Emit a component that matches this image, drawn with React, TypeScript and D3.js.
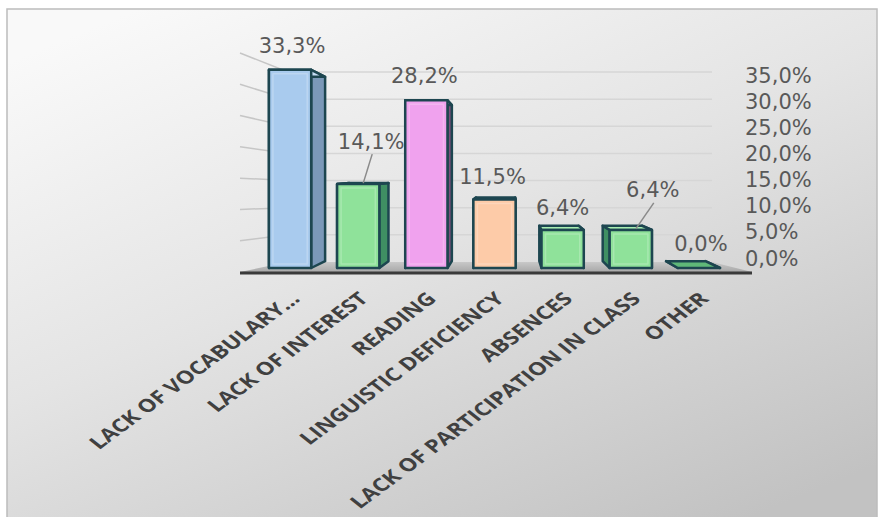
import React from 'react';
import * as d3 from 'd3';

// ---- data ----
const categories = [
  'LACK OF VOCABULARY...',
  'LACK OF INTEREST',
  'READING',
  'LINGUISTIC DEFICIENCY',
  'ABSENCES',
  'LACK OF PARTICIPATION IN CLASS',
  'OTHER',
];
const values = [33.3, 14.1, 28.2, 11.5, 6.4, 6.4, 0.0];
const tickValues = [0, 5, 10, 15, 20, 25, 30, 35];

// ---- styling ----
const frontColors = ['#a9cbee', '#8fe29a', '#f0a2ee', '#fdcba8', '#8fe29a', '#8fe29a', '#8fe29a'];
const sideColors = ['#7b98b8', '#3f8f63', '#7a4f7a', '#a88a72', '#3f8f63', '#3f8f63', '#3f8f63'];
const topColors = ['#c6ddf4', '#a9eeb2', '#f6c0f3', '#fde0cb', '#a9eeb2', '#a9eeb2', '#5fb878'];
// label offsets relative to (bar centre, bar top): [dx, dy, leader]
const labelOffsets: [number, number, boolean][] = [
  [2, -24, false],
  [13, -43, true],
  [-2, -25, false],
  [-2, -23, false],
  [0, -22, false],
  [22, -40, true],
  [2, -25, false],
];

const W = 878;
const H = 517;
const fmt = (v: number) => v.toFixed(1).replace('.', ',') + '%';

export default function App() {
  const x = d3
    .scaleBand<string>()
    .domain(categories)
    .range([256, 733])
    .paddingInner(0.38)
    .paddingOuter(0.19);
  const bw = x.bandwidth();
  const yFront = d3.scaleLinear().domain([0, 35]).range([268, 59.75]);
  const yWall = d3.scaleLinear().domain([0, 35]).range([262, 72]);
  const yWallFront = d3.scaleLinear().domain([0, 35]).range([272, 53]);
  const yAxis = d3.scaleLinear().domain([0, 35]).range([258, 75]);

  const V = [510, 170];
  const T = 0.07;
  const back = (px: number, py: number): [number, number] => [
    px + T * (V[0] - px),
    py + T * (V[1] - py),
  ];
  const poly = (pts: [number, number][]) => pts.map((p) => p.join(',')).join(' ');

  const wallLeft = 240;
  const wallBackLeft = 288;
  const wallBackRight = 712;
  const floorFrontRight = 752;

  const stroke = '#1d4650';

  return (
    <svg
      width={W}
      height={H}
      style={{ position: 'absolute', left: 0, top: 0 }}
      xmlns="http://www.w3.org/2000/svg"
    >
      <defs>
        <linearGradient id="bg" x1="0.15" y1="0" x2="0.85" y2="1">
          <stop offset="0" stopColor="#f9f9f9" />
          <stop offset="0.45" stopColor="#e4e4e4" />
          <stop offset="1" stopColor="#c2c2c2" />
        </linearGradient>
        <linearGradient id="floor" x1="0" y1="0" x2="0" y2="1">
          <stop offset="0" stopColor="#c8c8c8" />
          <stop offset="1" stopColor="#a8a8a8" />
        </linearGradient>
      </defs>
      <rect x={0} y={0} width={W} height={H} fill="#ffffff" />
      <rect x={7} y={9} width={870} height={510} fill="url(#bg)" stroke="#bcbcbc" strokeWidth={1.5} />

      {/* back wall gridlines */}
      {tickValues.slice(1).map((t) => (
        <line
          key={'g' + t}
          x1={wallBackLeft}
          x2={wallBackRight}
          y1={yWall(t)}
          y2={yWall(t)}
          stroke="#d6d6d6"
          strokeWidth={1.5}
        />
      ))}
      {/* side wall lines */}
      {tickValues.slice(1).map((t) => (
        <line
          key={'s' + t}
          x1={wallLeft}
          x2={wallBackLeft}
          y1={yWallFront(t)}
          y2={yWall(t)}
          stroke="#c6c6c6"
          strokeWidth={1.5}
        />
      ))}

      {/* floor */}
      <polygon
        points={poly([
          [wallLeft, yWallFront(0)],
          [wallBackLeft, yWall(0)],
          [wallBackRight, yWall(0)],
          [floorFrontRight, yWallFront(0)],
        ])}
        fill="url(#floor)"
      />
      <line
        x1={wallLeft}
        x2={floorFrontRight}
        y1={yWallFront(0) + 1}
        y2={yWallFront(0) + 1}
        stroke="#3a3a3a"
        strokeWidth={3}
      />

      {/* bars */}
      {categories.map((c, i) => {
        const x0 = x(c)!;
        const x1 = x0 + bw;
        const yt = yFront(values[i]);
        const yb = yFront(0);
        const right: [number, number][] = [[x1, yt], [x1, yb], back(x1, yb), back(x1, yt)];
        const left: [number, number][] = [[x0, yt], [x0, yb], back(x0, yb), back(x0, yt)];
        const top: [number, number][] = [[x0, yt], [x1, yt], back(x1, yt), back(x0, yt)];
        const h = yb - yt;
        return (
          <g key={c} strokeLinejoin="round">
            <polygon points={poly(right)} fill={sideColors[i]} stroke={stroke} strokeWidth={2.5} />
            <polygon points={poly(left)} fill={sideColors[i]} stroke={stroke} strokeWidth={2.5} />
            <polygon points={poly(top)} fill={topColors[i]} stroke={stroke} strokeWidth={2.5} />
            {h > 0 && (
              <>
                <rect x={x0} y={yt} width={bw} height={h} fill={frontColors[i]} stroke={stroke} strokeWidth={2.5} />
                {h > 10 && (
                  <rect
                    x={x0 + 4}
                    y={yt + 4}
                    width={bw - 8}
                    height={h - 8}
                    fill="none"
                    stroke="#ffffff"
                    strokeOpacity={0.22}
                    strokeWidth={1.5}
                  />
                )}
              </>
            )}
          </g>
        );
      })}

      {/* data labels */}
      {categories.map((c, i) => {
        const cx = x(c)! + bw / 2;
        const yt = yFront(values[i]);
        const [dx, dy, leader] = labelOffsets[i];
        const lx = cx + dx;
        const ly = yt + dy;
        return (
          <g key={'l' + c}>
            {leader && (
              <line x1={lx + 1} y1={ly + 13} x2={cx + 5} y2={yt - 1} stroke="#8a8a8a" strokeWidth={1.5} />
            )}
            <text
              x={lx}
              y={ly}
              dy="0.36em"
              textAnchor="middle"
              fontFamily="DejaVu Sans, sans-serif"
              fontSize={21}
              fill="#595959"
            >
              {fmt(values[i])}
            </text>
          </g>
        );
      })}

      {/* value axis labels */}
      {tickValues.map((t) => (
        <text
          key={'a' + t}
          x={745}
          y={yAxis(t)}
          dy="0.36em"
          fontFamily="DejaVu Sans, sans-serif"
          fontSize={21}
          fill="#595959"
        >
          {fmt(t)}
        </text>
      ))}

      {/* category labels */}
      {categories.map((c) => {
        const cx = x(c)! + bw / 2;
        return (
          <text
            key={'c' + c}
            transform={`translate(${cx + 11},${300}) scale(1.3,1) rotate(-44)`}
            textAnchor="end"
            fontFamily="Open Sans, sans-serif"
            fontWeight={700}
            fontSize={18}
            fill="#404040"
          >
            {c}
          </text>
        );
      })}
    </svg>
  );
}
